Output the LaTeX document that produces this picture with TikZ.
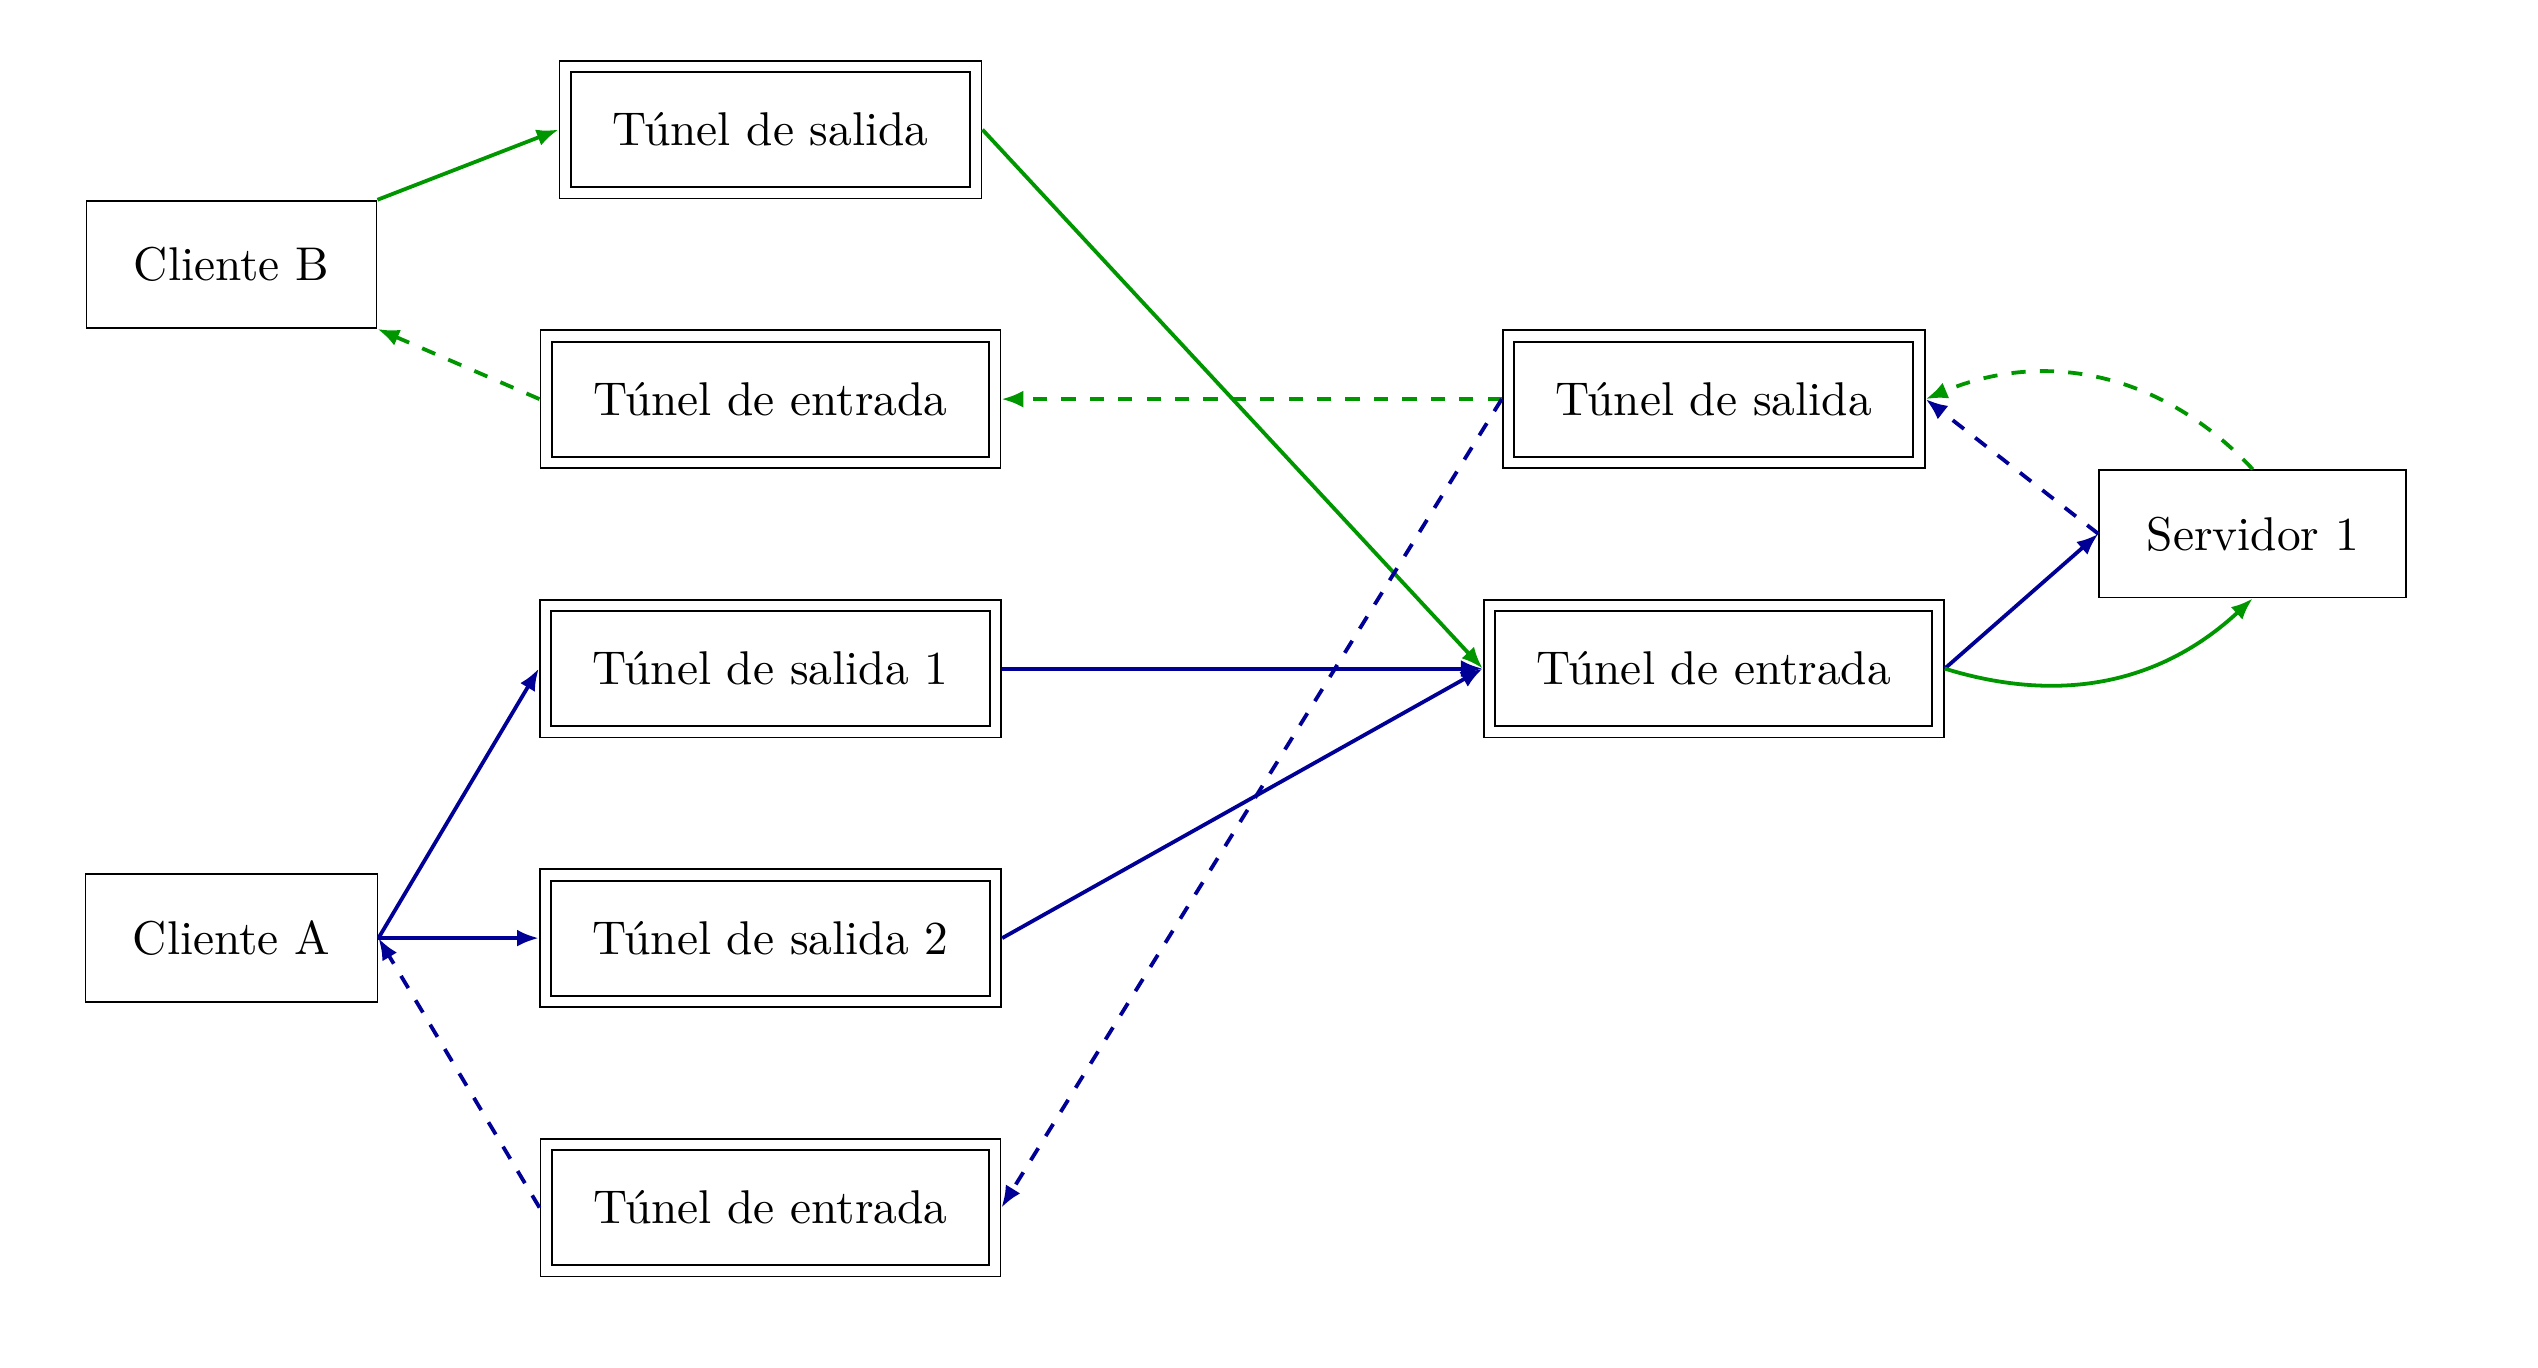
\documentclass[tikz,border=0pt]{standalone}
\usetikzlibrary{arrows.meta}
\definecolor{vd}{RGB}{0,150,0}
\definecolor{az}{RGB}{0,0,150}
\begin{document}
\begin{tikzpicture}[
  box/.style={draw, line width=0.4pt, inner xsep=10pt, inner ysep=9.8pt},
  tunnel/.style={box, double, double distance=2pt, outer sep=1.4pt},
  conn/.style={line width=0.8pt, -{Latex[length=4.6pt,width=3.6pt]}},
  gr/.style={conn, color=vd},
  bl/.style={conn, color=az}
]
\useasboundingbox (-1.718,0.962) rectangle (17.117,-9.190);

\node[box] (cb) at (0,-1) {Cliente B};
\node[box] (ca) at (0,-6) {Cliente A};
\node[tunnel] (ts) at (4,0) {Túnel de salida};
\node[tunnel] (te) at (4,-2) {Túnel de entrada};
\node[tunnel] (ts1) at (4,-4) {Túnel de salida 1};
\node[tunnel] (ts2) at (4,-6) {Túnel de salida 2};
\node[tunnel] (te2) at (4,-8) {Túnel de entrada};
\node[tunnel] (rs) at (11,-2) {Túnel de salida};
\node[tunnel] (re) at (11,-4) {Túnel de entrada};
\node[box] (s1) at (15,-3) {Servidor 1};

\draw[gr] (cb.north east) -- (ts.west);
\draw[gr, dashed] (te.west) -- (cb.south east);
\draw[gr] (ts.east) -- (re.west);
\draw[gr, dashed] (rs.west) -- (te.east);
\draw[bl] (ca.east) -- (ts1.west);
\draw[bl] (ca.east) -- (ts2.west);
\draw[bl, dashed] (te2.west) -- (ca.east);
\draw[bl] (ts1.east) -- (re.west);
\draw[bl] (ts2.east) -- (re.west);
\draw[bl, dashed] (rs.west) -- (te2.east);
\draw[bl] (re.east) -- (s1.west);
\draw[bl, dashed] (s1.west) -- (rs.east);
\draw[gr] (re.east) to[bend right=30] (s1.south);
\draw[gr, dashed] (s1.north) to[bend right=35] (rs.east);
\end{tikzpicture}
\end{document}
